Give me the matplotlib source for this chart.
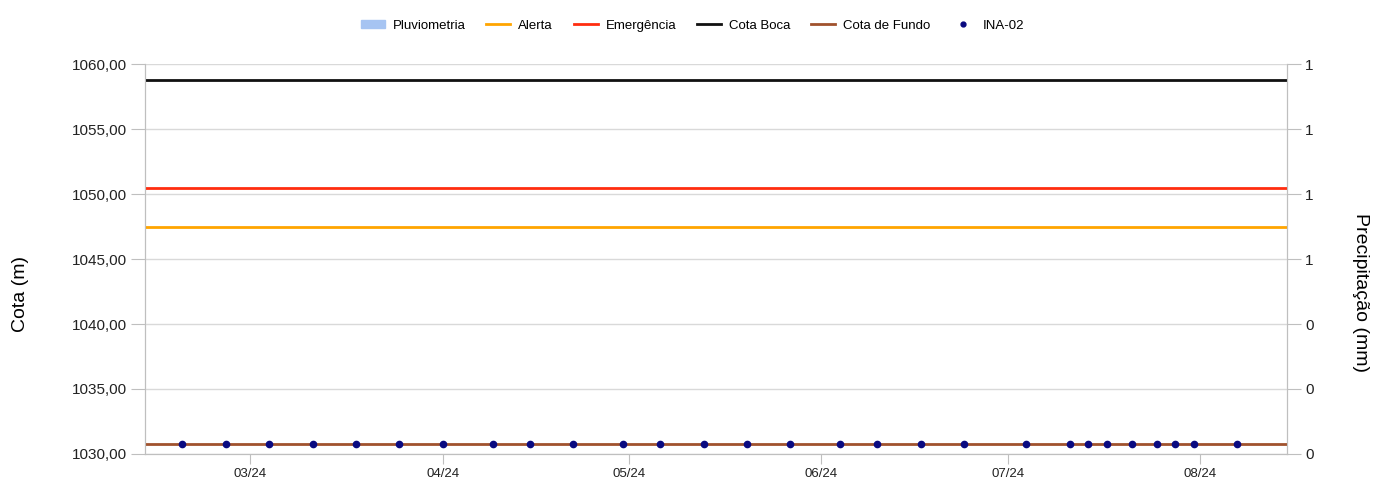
import matplotlib
matplotlib.use('Agg')
import matplotlib.pyplot as plt
import matplotlib.dates as mdates
import matplotlib.patches as mpatches
from matplotlib.lines import Line2D
from matplotlib.ticker import FuncFormatter
from datetime import datetime

# === DATA ===
ina_dates = ['2024-02-19', '2024-02-26', '2024-03-04', '2024-03-11', '2024-03-18',
             '2024-03-25', '2024-04-01', '2024-04-09', '2024-04-15', '2024-04-22',
             '2024-04-30', '2024-05-06', '2024-05-13', '2024-05-20', '2024-05-27',
             '2024-06-04', '2024-06-10', '2024-06-17', '2024-06-24', '2024-07-04',
             '2024-07-11', '2024-07-14', '2024-07-17', '2024-07-21', '2024-07-25',
             '2024-07-28', '2024-07-31', '2024-08-07']
ina_values = [1030.78] * len(ina_dates)
pluvio_values = [0.0] * len(ina_dates)

cota_alerta = 1047.45
cota_emergencia = 1050.5
cota_boca = 1058.75
cota_fundo = 1030.78

date_start = '2024-02-13'
date_end = '2024-08-15'
month_ticks = ['2024-03-01', '2024-04-01', '2024-05-01', '2024-06-01', '2024-07-01', '2024-08-01']
right_tick_labels = ['0', '0', '0', '1', '1', '1', '1']

# === STYLE ===
plt.rcParams['font.family'] = ['Liberation Sans', 'DejaVu Sans']
GRID = '#d9d9d9'
SPINE = '#bfbfbf'
C_ALERTA = '#ffa500'
C_EMERG = '#ff2d0f'
C_BOCA = '#111111'
C_FUNDO = '#a0522d'
C_INA = '#0a0a80'
C_PLUV = '#a6c4f2'

to_dt = lambda s: datetime.strptime(s, '%Y-%m-%d')
xd = [to_dt(d) for d in ina_dates]
x0, x1 = to_dt(date_start), to_dt(date_end)

fig = plt.figure(figsize=(13.91, 4.82), dpi=100)
ax = fig.add_axes([0.1042, 0.0581, 0.8210, 0.8091])
ax2 = ax.twinx()
ax.set_zorder(ax2.get_zorder() + 1)
ax.patch.set_visible(False)

# precipitation bars on right axis
ax2.bar(xd, pluvio_values, width=3, color=C_PLUV)
ax2.set_ylim(0, 1.2)
ax2.set_yticks([i * 0.2 for i in range(7)])
ax2.set_yticklabels(right_tick_labels)

# reference lines
ax.plot([x0, x1], [cota_alerta] * 2, color=C_ALERTA, lw=2)
ax.plot([x0, x1], [cota_emergencia] * 2, color=C_EMERG, lw=2)
ax.plot([x0, x1], [cota_boca] * 2, color=C_BOCA, lw=2)
ax.plot([x0, x1], [cota_fundo] * 2, color=C_FUNDO, lw=2)
ax.plot(xd, ina_values, linestyle='none', marker='o', ms=4.5, color=C_INA)

ax.set_xlim(x0, x1)
ax.set_ylim(1030, 1060)
ax.set_yticks(range(1030, 1061, 5))
ax.yaxis.set_major_formatter(FuncFormatter(lambda v, p: f'{v:.2f}'.replace('.', ',')))
ax.set_xticks([to_dt(m) for m in month_ticks])
ax.xaxis.set_major_formatter(mdates.DateFormatter('%m/%y'))
ax.grid(axis='y', color=GRID, lw=1)
ax.set_axisbelow(True)

for a in (ax, ax2):
    a.spines['top'].set_visible(False)
    for s in ('left', 'right', 'bottom'):
        a.spines[s].set_color(SPINE)
    a.tick_params(axis='both', colors=SPINE, labelcolor='#222222')
ax.tick_params(axis='y', length=10, labelsize=11, pad=3)
ax2.tick_params(axis='y', length=10, labelsize=11, pad=3)
ax.tick_params(axis='x', length=7, labelsize=9.5, pad=3)

ax.set_ylabel('Cota (m)', fontsize=14)
ax.yaxis.set_label_coords(-0.1015, 0.41)
ax2.set_ylabel('Precipitação (mm)', fontsize=14, rotation=270)
ax2.yaxis.set_label_coords(1.072, 0.413)

handles = [
    mpatches.Patch(color=C_PLUV, label='Pluviometria'),
    Line2D([], [], color=C_ALERTA, lw=2, label='Alerta'),
    Line2D([], [], color=C_EMERG, lw=2, label='Emergência'),
    Line2D([], [], color=C_BOCA, lw=2, label='Cota Boca'),
    Line2D([], [], color=C_FUNDO, lw=2, label='Cota de Fundo'),
    Line2D([], [], color=C_INA, marker='o', ms=3.5, linestyle='none', label='INA-02'),
]
fig.legend(handles=handles, loc='center', bbox_to_anchor=(0.498, 0.947), ncol=6,
           frameon=False, fontsize=9.5, handlelength=1.8, handleheight=0.5,
           columnspacing=1.6, handletextpad=0.6)

fig.savefig('out.png', dpi=100)
